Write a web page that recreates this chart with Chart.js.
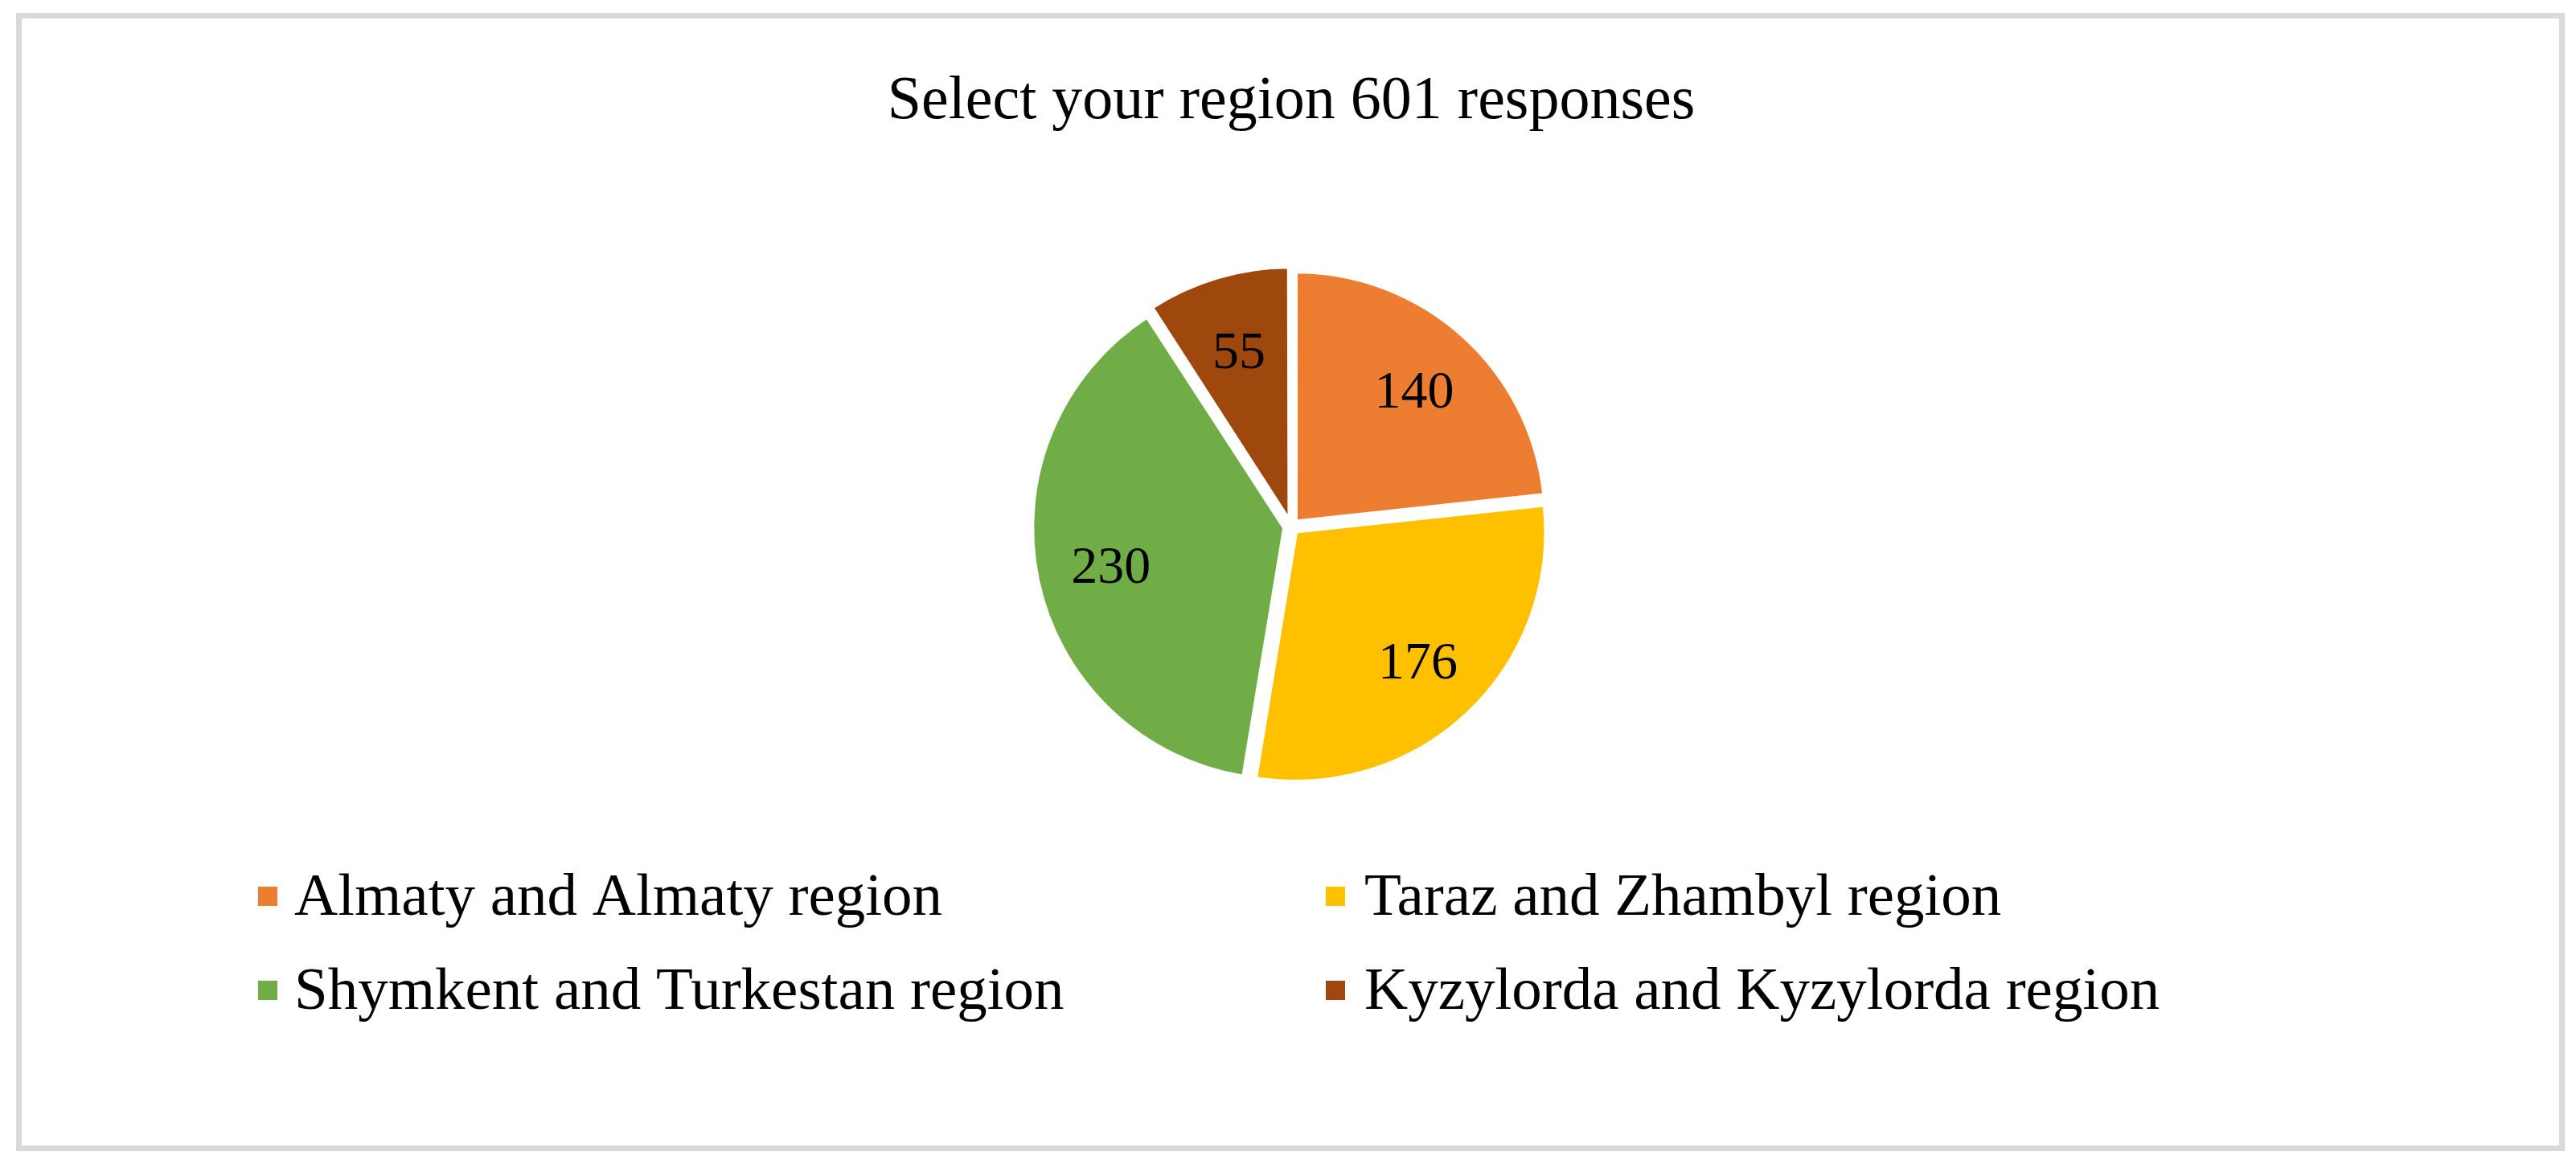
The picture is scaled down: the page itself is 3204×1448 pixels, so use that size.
<!DOCTYPE html>
<html>
<head>
<meta charset="utf-8">
<script src="https://cdn.jsdelivr.net/npm/chart.js@4/dist/chart.umd.min.js"></script>
<style>
  html, body { margin: 0; padding: 0; background: #ffffff; }
  #wrap { position: relative; width: 3204px; height: 1448px; }
  canvas { display: block; }
</style>
</head>
<body>
<div id="wrap"><canvas id="c" width="3204" height="1448"></canvas></div>
<script>
// ---- data ----
const regions = [
  'Almaty and Almaty region',
  'Taraz and Zhambyl region',
  'Shymkent and Turkestan region',
  'Kyzylorda and Kyzylorda region'
];
const responses = [140, 176, 230, 55];
const sliceColors = ['#ED7D31', '#FFC000', '#70AD47', '#9E480E'];
const chartTitle = 'Select your region 601 responses';

// ---- style constants ----
const FONT = "'Liberation Serif', 'Times New Roman', serif";
const SLICE_OFFSET = 36; // Chart.js v4 translates arcs by offset/4

const framePlugin = {
  id: 'frame',
  beforeDraw(chart) {
    const ctx = chart.ctx;
    ctx.save();
    ctx.fillStyle = '#ffffff';
    ctx.fillRect(0, 0, chart.width, chart.height);
    ctx.strokeStyle = '#D9D9D9';
    ctx.lineWidth = 7;
    ctx.strokeRect(23.5, 19.5, 3163, 1409);
    ctx.restore();
  }
};

const valueLabelPlugin = {
  id: 'valueLabels',
  afterDatasetsDraw(chart) {
    const ctx = chart.ctx;
    const meta = chart.getDatasetMeta(0);
    const ds = chart.data.datasets[0];
    const size = 66;
    ctx.save();
    ctx.font = size + 'px ' + FONT;
    ctx.fillStyle = '#000000';
    ctx.textAlign = 'center';
    ctx.textBaseline = 'alphabetic';
    meta.data.forEach((arc, i) => {
      const p = arc.getProps(['x', 'y', 'startAngle', 'endAngle', 'outerRadius']);
      const mid = (p.startAngle + p.endAngle) / 2;
      const r = p.outerRadius * 0.71 + SLICE_OFFSET / 4;
      const x = p.x + Math.cos(mid) * r;
      const y = p.y + Math.sin(mid) * r;
      ctx.fillText(String(ds.data[i]), x, y + size * 0.34);
    });
    ctx.restore();
  }
};

const legendPlugin = {
  id: 'gridLegend',
  afterDraw(chart) {
    const ctx = chart.ctx;
    const labels = chart.data.labels;
    const cols = chart.data.datasets[0].backgroundColor;
    const markerX = [321, 1649];
    const textX = [366, 1697];
    const baseY = [1138, 1255];
    const box = 24;
    ctx.save();
    ctx.font = '75px ' + FONT;
    ctx.textAlign = 'left';
    ctx.textBaseline = 'alphabetic';
    labels.forEach((lab, i) => {
      const c = i % 2, r = Math.floor(i / 2);
      ctx.fillStyle = cols[i];
      ctx.fillRect(markerX[c], baseY[r] - 35, box, box);
      ctx.fillStyle = '#000000';
      ctx.fillText(lab, textX[c], baseY[r]);
    });
    ctx.restore();
  }
};

new Chart(document.getElementById('c'), {
  type: 'pie',
  data: {
    labels: regions,
    datasets: [{
      data: responses,
      backgroundColor: sliceColors,
      borderColor: '#ffffff',
      borderWidth: 4,
      offset: SLICE_OFFSET,
      hoverOffset: SLICE_OFFSET
    }]
  },
  options: {
    responsive: false,
    animation: false,
    devicePixelRatio: 1,
    radius: 310,
    rotation: 0,
    layout: { padding: { top: 0, bottom: 468, left: 8, right: 0 } },
    plugins: {
      legend: { display: false },
      tooltip: { enabled: false },
      title: {
        display: true,
        text: chartTitle,
        color: '#000000',
        font: { family: FONT, size: 76, weight: 'normal' },
        padding: { top: 81, bottom: 158 }
      }
    }
  },
  plugins: [framePlugin, valueLabelPlugin, legendPlugin]
});
</script>
</body>
</html>
